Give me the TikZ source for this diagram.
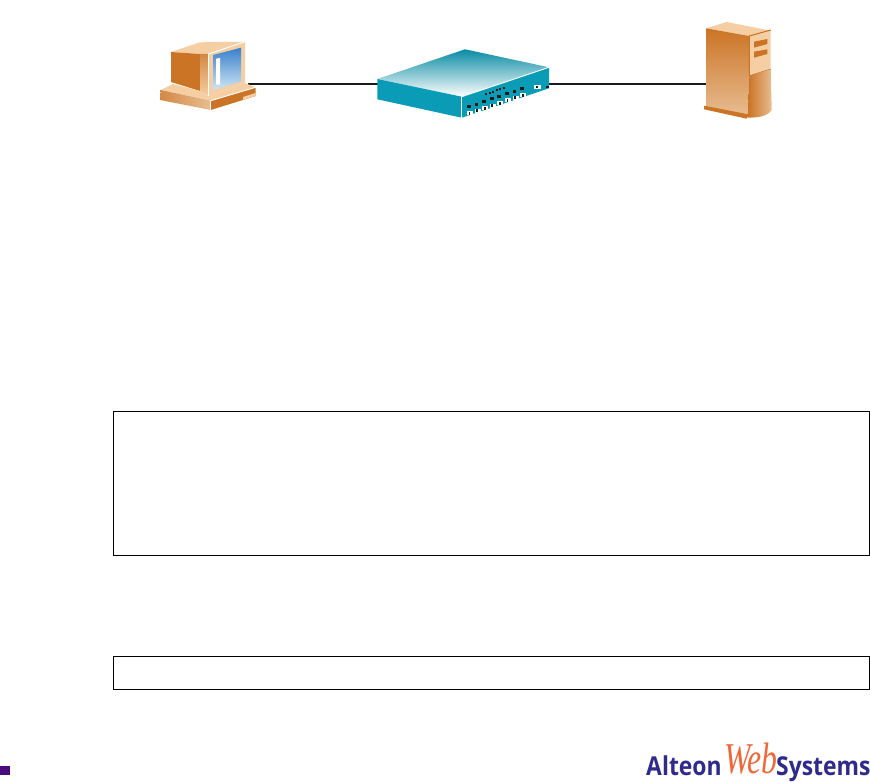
\documentclass[tikz,border=0pt]{standalone}
\usepackage{fontspec}
\newfontfamily\logosans{Open Sans}
\newfontfamily\logoserif{Liberation Serif}
\definecolor{Tan}{HTML}{F5CFA3}
\definecolor{Rust}{HTML}{CB7425}
\definecolor{Peach}{HTML}{E8BD92}
\definecolor{Teal}{HTML}{0A9BB6}
\definecolor{Glass}{HTML}{3A80CC}
\definecolor{GlassPale}{HTML}{CFE6F4}
\definecolor{Wire}{HTML}{1A1A1A}
\definecolor{Purple}{HTML}{4B0A7E}
\definecolor{LogoBlue}{HTML}{2F2A8C}
\definecolor{LogoOrange}{HTML}{F0683A}
\tikzset{
  wire/.style={Wire,line width=1.4pt},
  framebox/.style={black,line width=.75pt},
  seam/.style={white,line width=.7pt},
}
\begin{document}
\begin{tikzpicture}[x=.75pt,y=-.75pt]
  \useasboundingbox (0,0) rectangle (870,781);

  % Connector ends.
  \coordinate (pcjack) at (248,83.8);
  \coordinate (switchleft) at (378,83.8);
  \coordinate (switchright) at (549,83.8);
  \coordinate (serverjack) at (706,83.8);
  \draw[wire] (pcjack)--(switchleft);
  \draw[wire] (switchright)--(serverjack);

  % Computer.
  \fill[Tan] (171,52)--(200,42.3)--(245,41.7)--(208.5,54)--(200,54)--cycle;
  \fill[Rust] (171,52)--(200,54)--(200,91)--(171,82)--cycle;
  \shade[top color=Rust!85!white,bottom color=Tan] (200,54)--(208.5,54)--(208.5,96)--(200,91)--cycle;
  \fill[Tan] (208.5,54)--(245,41.7)--(245,83)--(208.5,96)--cycle;
  \shade[shading angle=40,top color=Glass,bottom color=GlassPale] (213,55)--(241,47.7)--(241,81.7)--(213,90)--cycle;
  \fill[white] (216,58.7)--(220,58)--(220,84.7)--(216,84.7)--cycle;
  \fill[Tan] (160.7,90)--(173,84)--(200,91)--(208.5,96)--(245,83)--(255.7,87.3)--(210.7,100.7)--cycle;
  \shade[left color=Rust!85!white,right color=Peach] (160.7,90)--(210.7,100.7)--(210.7,110)--(160,100)--cycle;
  \fill[Rust] (210.7,100.7)--(255.7,87.3)--(255.7,96)--(210.7,110)--cycle;
  \fill[Tan] (243,97)--(255.7,93)--(255.7,96)--(243,100)--cycle;
  \draw[seam] (208.5,54)--(245,41.7);
  \draw[seam] (208.5,54)--(208.5,96);
  \draw[seam] (210.7,100.7)--(255.7,87.3);
  \draw[seam] (210.7,100.7)--(210.7,110);

  % Switch.
  \shade[shading angle=-50,bottom color=white,top color=Teal!90!black] (377.3,79)--(465,49.3)--(549,67.3)--(461.7,96.7)--cycle;
  \fill[Teal] (377.3,79)--(461.7,96.7)--(461.7,117.7)--(377.3,99.3)--cycle;
  \fill[Teal] (461.7,96.7)--(549,67.3)--(549,88.3)--(461.7,117.7)--cycle;
  \draw[seam] (461.7,96.7)--(549,67.3);
  \draw[seam] (461.7,96.7)--(461.7,117.7);
  \foreach \i in {0,...,7} {
    \fill[Wire] (467+7.6*\i,108.2-2.57*\i) rectangle +(3.8,-3);
    \fill[white] (467+7.6*\i,115.5-2.6*\i) rectangle +(6,-4);
    \fill[Wire] (468.5+7.6*\i,115-2.6*\i) rectangle +(1.8,-3);
  }
  \foreach \i in {0,...,5} {
    \fill[Wire] (485+3.6*\i,94.8-1.1*\i) rectangle +(2,-2);
  }
  \fill[white] (534,85.5) rectangle +(6.5,3.5);
  \fill[Wire] (536,87.8) rectangle +(2.4,-1.4);
  \fill[Wire] (546,88) rectangle +(3,-2);

  % Server.
  \fill[Tan] (706,28.3)--(726.7,22)--(770.7,30.7)--(749.3,36)--cycle;
  \shade[top color=Rust,bottom color=Peach] (706,28.3)--(749.3,36)--(749.3,116)--(706,106)--cycle;
  \fill[Tan] (749.3,36)--(770.7,30)--(770.7,69.3)--(749.3,76)--cycle;
  \draw[Rust,line width=.8pt] (749.3,36)--(770.7,30);
  \draw[Rust,line width=.8pt] (749.3,36)--(749.3,76)--(770.7,69.3);
  \shade[left color=Rust,right color=Peach] (749.3,76)--(770.7,69.3)--(771.7,110)
    .. controls (768,116) and (758,118) .. (748,117.5)--cycle;
  \fill[Rust] (704,106)--(706,106)--(749,114.5)--(746.7,118.7)--(704,109.3)--cycle;
  \fill[Rust] (754,41.7)--(767.3,39)--(767.3,44)--(754,47.7)--cycle;
  \fill[Rust] (754,51.7)--(767.3,49.3)--(767.3,54)--(754,57.7)--cycle;

  % Text boxes.
  \draw[framebox] (113,411) rectangle (869,555);
  \draw[framebox] (113,656) rectangle (869,689);

  % Page mark and logo.
  \fill[Purple] (0,766) rectangle (10,775);
  \node[anchor=base west,inner sep=0pt,text=LogoBlue,font=\logosans\bfseries\fontsize{19.5}{20}\selectfont,xscale=.88] (logoleft) at (646,775) {Alteon};
  \node[anchor=base west,inner sep=0pt,text=LogoOrange,font=\logoserif\itshape\fontsize{33}{33}\selectfont,xscale=.72] (logoweb) at (724,773) {Web};
  \node[anchor=base west,inner sep=0pt,text=LogoBlue,font=\logosans\bfseries\fontsize{19.5}{20}\selectfont,xscale=.88] (logoright) at (776,775) {Systems};
\end{tikzpicture}
\end{document}
